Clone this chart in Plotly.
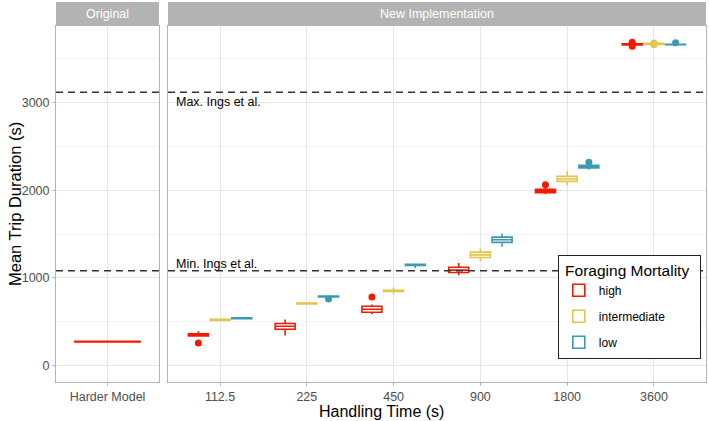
import plotly.graph_objects as go

# ---------------- data ----------------
categories = ["112.5", "225", "450", "900", "1800", "3600"]
groups = ["high", "intermediate", "low"]
colors = {"high": "#F21A00", "intermediate": "#E2C54A", "low": "#3B9AB2"}

high_q1 = [335, 412, 606, 1061, 1971, 3660]
high_med = [347, 446, 640, 1087, 1990, 3668]
high_q3 = [360, 477, 675, 1121, 2010, 3675]
high_lo = [328, 339, 584, 1030, 1953, 3655]
high_hi = [389, 523, 695, 1170, 2025, 3680]
high_out = [[255], [], [781], [], [2063], [3690, 3645]]

int_q1 = [513, 700, 845, 1232, 2102, 3665]
int_med = [519, 706, 851, 1262, 2128, 3672]
int_q3 = [525, 712, 858, 1293, 2159, 3679]
int_lo = [508, 695, 818, 1193, 2056, 3660]
int_hi = [530, 716, 889, 1335, 2220, 3684]
int_out = [[], [], [], [], [], [3682, 3662]]

low_q1 = [532, 781, 1142, 1404, 2254, 3662]
low_med = [538, 786, 1148, 1434, 2270, 3665]
low_q3 = [544, 791, 1154, 1465, 2285, 3668]
low_lo = [528, 770, 1113, 1354, 2235, 3655]
low_hi = [548, 795, 1160, 1507, 2295, 3675]
low_out = [[], [758], [], [], [2319], [3686]]

harder_category = ["Harder Model"]
harder_q1 = [268]
harder_med = [271]
harder_q3 = [274]
harder_lo = [266]
harder_hi = [276]

ings_max = 3120
ings_min = 1080
yticks = [0, 1000, 2000, 3000]

stats = {
    "high": (high_q1, high_med, high_q3, high_lo, high_hi, high_out),
    "intermediate": (int_q1, int_med, int_q3, int_lo, int_hi, int_out),
    "low": (low_q1, low_med, low_q3, low_lo, low_hi, low_out),
}

# ---------------- figure ----------------
FONT = "Liberation Sans, Arial, sans-serif"
dodge = {"high": -0.25, "intermediate": 0.0, "low": 0.25}
box_w = 0.23
fig = go.Figure()

# left panel: Harder Model
fig.add_trace(go.Box(
    x=[i for i in range(len(harder_category))],
    q1=harder_q1, median=harder_med, q3=harder_q3,
    lowerfence=harder_lo, upperfence=harder_hi,
    orientation="v", width=0.76, whiskerwidth=0, boxpoints=False,
    line=dict(color=colors["high"], width=1.6), fillcolor="white",
    showlegend=False, xaxis="x", yaxis="y", hoverinfo="skip"))

# right panel
for g in groups:
    q1, med, q3, lo, hi, out = stats[g]
    pos = [i + dodge[g] for i in range(len(categories))]
    fig.add_trace(go.Box(
        x=pos, q1=q1, median=med, q3=q3, lowerfence=lo, upperfence=hi,
        orientation="v", width=box_w, whiskerwidth=0, boxpoints=False,
        line=dict(color=colors[g], width=1.6), fillcolor="white",
        name=g, legendgroup=g, showlegend=True, xaxis="x2", yaxis="y2"))
    ox, oy = [], []
    for i, pts in enumerate(out):
        for p in pts:
            ox.append(i + dodge[g])
            oy.append(p)
    fig.add_trace(go.Scatter(
        x=ox, y=oy, mode="markers", marker=dict(color=colors[g], size=7),
        showlegend=False, legendgroup=g, xaxis="x2", yaxis="y2", hoverinfo="skip"))

grid_major = "#e6e6e6"
grid_minor = "#f2f2f2"
border = "#b3b3b3"
tickfont = dict(family=FONT, size=12.5, color="#4d4d4d")
yrange = [-191, 3877]

common_x = dict(showline=True, mirror=True, linecolor=border, linewidth=1,
                ticks="outside", ticklen=3, tickcolor=border,
                showgrid=True, gridcolor=grid_major, gridwidth=1,
                zeroline=False, tickfont=tickfont)

fig.update_layout(
    width=709, height=421,
    margin=dict(l=56, r=3, t=26, b=39),
    paper_bgcolor="white", plot_bgcolor="white",
    font=dict(family=FONT, color="black"),
    xaxis=dict(domain=[0, 0.1585], range=[-0.6, 0.6], tickmode="array",
               tickvals=list(range(len(harder_category))), ticktext=harder_category,
               **common_x),
    xaxis2=dict(domain=[0.1723, 1], range=[-0.6, len(categories) - 0.4], tickmode="array",
                tickvals=list(range(len(categories))), ticktext=categories,
                anchor="y2", **common_x),
    yaxis=dict(range=yrange, tickmode="array", tickvals=yticks,
               showline=True, mirror=True, linecolor=border, linewidth=1,
               ticks="outside", ticklen=3, tickcolor=border,
               showgrid=True, gridcolor=grid_major, gridwidth=1, zeroline=False,
               minor=dict(dtick=500, tick0=0, showgrid=True, gridcolor=grid_minor, ticks=""),
               tickfont=tickfont, anchor="x"),
    yaxis2=dict(range=yrange, matches="y", anchor="x2", showticklabels=False,
                showline=True, mirror=True, linecolor=border, linewidth=1,
                ticks="", showgrid=True, gridcolor=grid_major, gridwidth=1, zeroline=False,
                tickmode="array", tickvals=yticks,
                minor=dict(dtick=500, tick0=0, showgrid=True, gridcolor=grid_minor, ticks="")),
    legend=dict(x=0.772, y=0.358, xanchor="left", yanchor="top",
                bgcolor="white", bordercolor="#222222", borderwidth=1,
                title=dict(text="&nbsp;Foraging Mortality&nbsp;&nbsp;",
                           font=dict(family=FONT, size=15.5, color="black")),
                font=dict(family=FONT, size=12, color="black"),
                traceorder="grouped", tracegroupgap=7),
)

# dashed reference lines in both panels
for xr, yr in (("x domain", "y"), ("x2 domain", "y2")):
    for v in (ings_max, ings_min):
        fig.add_shape(type="line", xref=xr, yref=yr, x0=0, x1=1, y0=v, y1=v,
                      line=dict(color="#333333", width=1.4, dash="7px,5px"))

fig.add_annotation(x=-0.5, y=3010, xref="x2", yref="y2", text="Max. Ings et al.",
                   showarrow=False, xanchor="left", yanchor="middle", xshift=-3,
                   font=dict(family=FONT, size=12.5, color="black"))
fig.add_annotation(x=-0.5, y=1160, xref="x2", yref="y2", text="Min. Ings et al.",
                   showarrow=False, xanchor="left", yanchor="middle", xshift=-3,
                   font=dict(family=FONT, size=12.5, color="black"))

# facet strips
strip_top = 1 + 24 / 356
for (x0, x1, label) in ((0, 0.1585, "Original"), (0.1723, 1, "New Implementation")):
    fig.add_shape(type="rect", xref="paper", yref="paper", x0=x0, x1=x1, y0=1, y1=strip_top,
                  fillcolor=border, line=dict(width=0), layer="above")
    fig.add_annotation(x=(x0 + x1) / 2, y=(1 + strip_top) / 2, xref="paper", yref="paper",
                       text=label, showarrow=False, xanchor="center", yanchor="middle",
                       font=dict(family=FONT, size=12.5, color="white"))

# axis titles
fig.add_annotation(x=(382 - 56) / 650, y=-(411.7 - 382) / 356, xref="paper", yref="paper",
                   text="Handling Time (s)", showarrow=False, xanchor="center", yanchor="middle",
                   font=dict(family=FONT, size=16, color="black"))
fig.add_annotation(x=(15 - 56) / 650, y=0.5, xref="paper", yref="paper",
                   text="Mean Trip Duration (s)", showarrow=False, textangle=-90,
                   xanchor="center", yanchor="middle",
                   font=dict(family=FONT, size=16.5, color="black"))

fig.write_html("out.html")
